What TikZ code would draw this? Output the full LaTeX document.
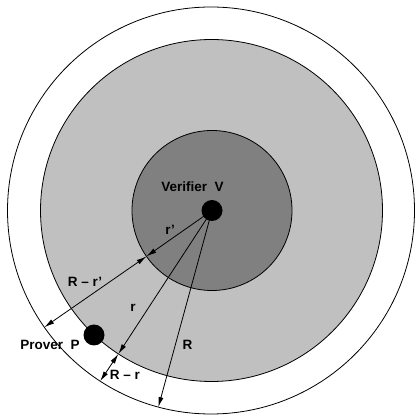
\documentclass[tikz,border=0pt]{standalone}
\usepackage{fontspec}
\setmainfont{Liberation Sans}
\usetikzlibrary{arrows.meta}
\begin{document}
\begin{tikzpicture}[x=1pt,y=1pt,
  ring/.style={circle,draw=black,line width=0.8pt,outer sep=0pt,inner sep=0pt},
  dot/.style={circle,fill=black,inner sep=0pt,minimum size=21pt,outer sep=0pt},
  lbl/.style={font=\fontsize{13.5}{16}\selectfont\bfseries,inner sep=0pt},
  arr/.style={line width=0.8pt,-{Latex[length=10pt,width=5pt]}},
  darr/.style={line width=0.8pt,{Latex[length=10pt,width=5pt]}-{Latex[length=10pt,width=5pt]}}]
\useasboundingbox (0,0) rectangle (415,417);
\node[ring,fill=white,minimum size=407pt] (outer) at (211,206.5) {};
\node[ring,fill={rgb,255:red,192;green,192;blue,192},minimum size=342pt] (mid) at (211.5,206.5) {};
\node[ring,fill={rgb,255:red,128;green,128;blue,128},minimum size=160pt] (dark) at (212,206.5) {};
\coordinate (C) at (212,206.5);
\draw[arr] (C) -- (dark.215);
\draw[darr] (dark.215) -- (outer.215);
\draw[arr] (C) -- (mid.237.4);
\draw[darr] (mid.237.4) -- (outer.237.4);
\draw[arr] (C) -- (outer.255.7);
\node[dot] (V) at (C) {};
\node[dot] (P) at (94,82) {};
\node[lbl] (lv) at (192.5,230) {Verifier\ \ V};
\node[lbl] (lrp) at (170,187) {r’};
\node[lbl] (lRrp) at (85,135) {R – r’};
\node[lbl] (lr) at (133,109) {r};
\node[lbl] (lR) at (187.5,72) {R};
\node[lbl] (lp) at (50,72) {Prover\ \ P};
\node[lbl] (lRr) at (125,42) {R – r};
\end{tikzpicture}
\end{document}
